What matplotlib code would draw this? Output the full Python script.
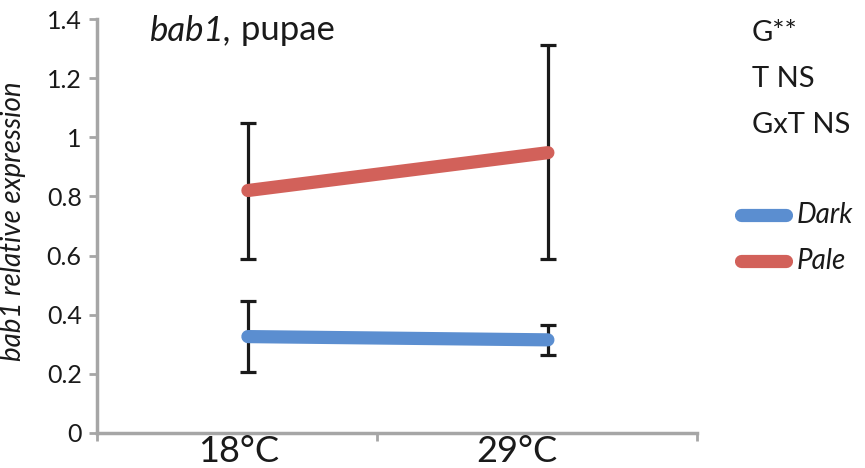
import matplotlib
matplotlib.use("Agg")
import matplotlib.pyplot as plt
import matplotlib.transforms as mtransforms

# data
temps = ["18°C", "29°C"]
dark = [0.326, 0.315]
dark_lo = [0.205, 0.264]
dark_hi = [0.446, 0.365]
pale = [0.82, 0.948]
pale_lo = [0.587, 0.588]
pale_hi = [1.05, 1.312]
stats = ["G**", "T NS", "GxT NS"]

xpos = [0.503, 1.503]
label_pos = [0.473, 1.40]

plt.rcParams['font.family'] = ['Lato', 'DejaVu Sans']

fig = plt.figure(figsize=(8.65, 4.68), dpi=100)
ax = fig.add_axes([97 / 865, 35 / 468, 600 / 865, 414 / 468])

axcol = "#A6A6A6"
blue = "#5B8ED0"
red = "#D2615A"
txt = "#1a1a1a"

for vals, lo, hi, col in [(pale, pale_lo, pale_hi, red),
                          (dark, dark_lo, dark_hi, blue)]:
    err = [[v - l for v, l in zip(vals, lo)], [h - v for v, h in zip(vals, hi)]]
    ax.errorbar(xpos, vals, yerr=err, fmt="none", ecolor=txt,
                elinewidth=2.3, capsize=6, capthick=2.3, zorder=2)
    ax.plot(xpos, vals, color=col, lw=9.5, solid_capstyle="round", zorder=3)

ax.set_xlim(0, 2)
ax.set_ylim(0, 1.4)
ax.set_yticks([0, 0.2, 0.4, 0.6, 0.8, 1, 1.2, 1.4])
ax.set_yticklabels(["0", "0.2", "0.4", "0.6", "0.8", "1", "1.2", "1.4"],
                   fontsize=18, color=txt)
ax.set_xticks([0, 0.933, 2])
ax.set_xticklabels([])

# category labels sit low, near the bottom edge like the reference
blend = mtransforms.blended_transform_factory(ax.transData, fig.transFigure)
for i, t in enumerate(temps):
    ax.text(label_pos[i], 1 - 435 / 468, t, transform=blend,
            ha="center", va="top", fontsize=26, color=txt, clip_on=False)

for s in ["top", "right"]:
    ax.spines[s].set_visible(False)
for s in ["left", "bottom"]:
    ax.spines[s].set_color(axcol)
    ax.spines[s].set_linewidth(2.5)
ax.tick_params(axis="both", color=axcol, width=2, length=6, direction="out")
ax.tick_params(axis="y", pad=5)

ax.set_ylabel("bab1 relative expression", fontsize=20, style="italic", color=txt)
ax.yaxis.set_label_coords(-0.118, 0.512)

# title "bab1, pupae" with italic gene name
t1 = fig.text(150 / 865, 1 - 30 / 468, "bab1,", fontsize=25, style="italic",
              va="center", color=txt)
fig.canvas.draw()
bb = t1.get_window_extent()
fig.text(bb.x1 / 865, 1 - 30 / 468, " pupae", fontsize=25,
         va="center", color=txt)

for i, s in enumerate(stats):
    fig.text(752 / 865, 1 - (33 + 46 * i) / 468, s, fontsize=21,
             va="center", color=txt)

for y, col, name in [(215, blue, "Dark"), (261, red, "Pale")]:
    fig.add_artist(plt.Line2D([741 / 865, 786 / 865], [1 - y / 468] * 2,
                              color=col, lw=9.5, solid_capstyle="round"))
    fig.text(797 / 865, 1 - y / 468, name, fontsize=20, style="italic",
             va="center", color=txt)

fig.savefig("out.png", dpi=100)
